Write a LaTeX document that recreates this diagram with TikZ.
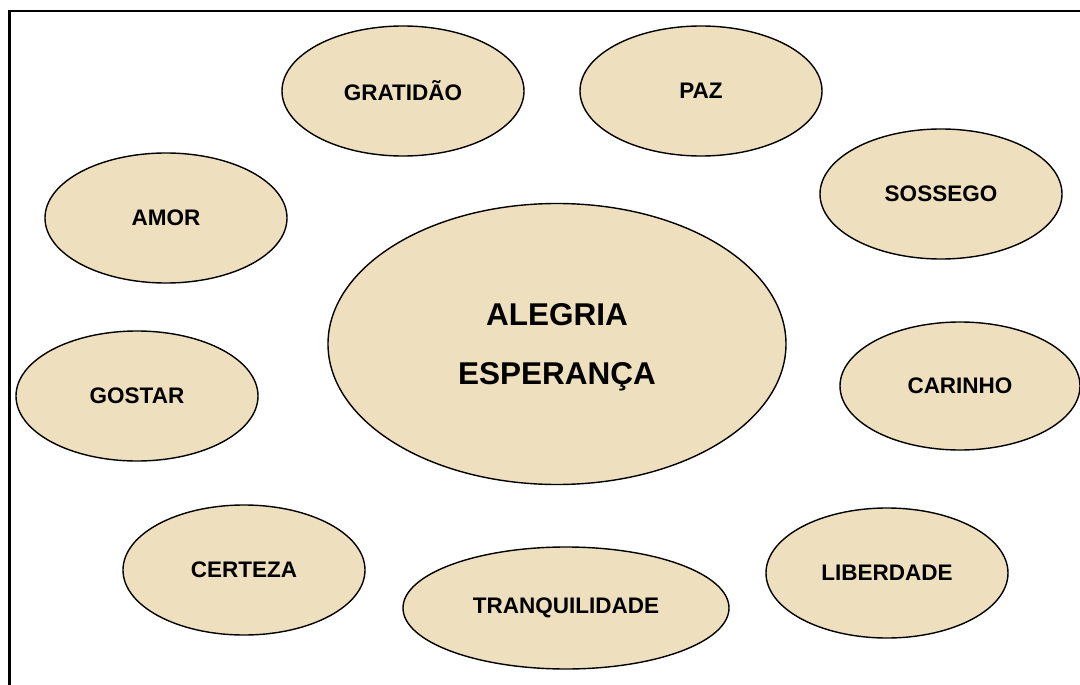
\documentclass[tikz,border=0pt]{standalone}
\usepackage{fontspec}
\setmainfont{Liberation Sans}
\usetikzlibrary{shapes.geometric}
\definecolor{bege}{RGB}{238,224,190}
\tikzset{
  bolha/.style={ellipse, draw=black, line width=1.4pt, fill=bege, inner sep=0pt,
    minimum width=242pt, minimum height=130pt,
    font=\bfseries\fontsize{22.5}{26}\selectfont},
  centro/.style={bolha, minimum width=458pt, minimum height=281pt, align=center,
    text depth=0pt, font=\bfseries\fontsize{31.5}{59}\selectfont}
}
\begin{document}
\begin{tikzpicture}[x=1pt, y=-1pt]
  \useasboundingbox[fill=white] (0,0) rectangle (1080,685);
  \draw[line width=2.6pt] (9.5,700) -- (9.5,11) -- (1100,11);

  \node[centro] (alegria) at (557,344) {ALEGRIA\\ESPERANÇA};
  \node[bolha] (gratidao) at (403,91) {GRATIDÃO};
  \node[bolha] (paz) at (701,91) {PAZ};
  \node[bolha] (sossego) at (941,194) {SOSSEGO};
  \node[bolha] (amor) at (166,218) {AMOR};
  \node[bolha] (gostar) at (137,396) {GOSTAR};
  \node[bolha, minimum width=240pt, minimum height=128pt] (carinho) at (960,386) {CARINHO};
  \node[bolha] (certeza) at (244,570) {CERTEZA};
  \node[bolha, minimum width=326pt, minimum height=122pt] (tranquilidade) at (566,608) {TRANQUILIDADE};
  \node[bolha] (liberdade) at (887,573) {LIBERDADE};
\end{tikzpicture}
\end{document}
